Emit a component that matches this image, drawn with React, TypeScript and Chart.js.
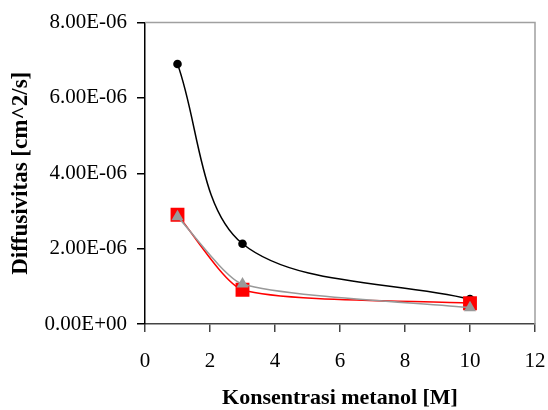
import React, { useEffect, useRef } from "react";
import { Chart, registerables } from "chart.js";

Chart.register(...registerables);

const xValues = [1, 3, 10];
const seriesBlack = [6.9e-6, 2.13e-6, 0.66e-6];
const seriesRed = [2.9e-6, 0.91e-6, 0.55e-6];
const seriesGray = [2.85e-6, 1.06e-6, 0.43e-6];
const xTitle = "Konsentrasi metanol [M]";
const yTitle = "Diffusivitas [cm^2/s]";

const FONT = "'Liberation Serif', 'Times New Roman', serif";

const frame = {
  id: "frame",
  beforeDatasetsDraw(chart: any) {
    const { ctx, chartArea } = chart;
    ctx.save();
    ctx.strokeStyle = "#a0a0a0";
    ctx.lineWidth = 1.5;
    ctx.beginPath();
    ctx.moveTo(chartArea.left, chartArea.top);
    ctx.lineTo(chartArea.right, chartArea.top);
    ctx.lineTo(chartArea.right, chartArea.bottom);
    ctx.stroke();
    ctx.restore();
  },
};

export default function App() {
  const ref = useRef<HTMLCanvasElement>(null);
  useEffect(() => {
    const pts = (ys: number[]) => xValues.map((x, i) => ({ x, y: ys[i] }));
    const chart = new Chart(ref.current!, {
      type: "scatter",
      data: {
        datasets: [
          {
            data: pts(seriesBlack),
            order: 3,
            showLine: true,
            borderColor: "#000000",
            backgroundColor: "#000000",
            borderWidth: 1.5,
            pointStyle: "circle",
            pointRadius: 4.3,
            pointBorderWidth: 0,
            tension: 0.33,
          },
          {
            data: pts(seriesRed),
            order: 2,
            showLine: true,
            borderColor: "#ff0000",
            backgroundColor: "#ff0000",
            borderWidth: 1.5,
            pointStyle: "rect",
            pointRadius: 9.8,
            pointBorderWidth: 0,
            tension: 0.2,
          },
          {
            data: pts(seriesGray),
            order: 1,
            showLine: true,
            borderColor: "#999999",
            backgroundColor: "#999999",
            borderWidth: 1.5,
            pointStyle: "triangle",
            pointRadius: 7,
            pointBorderWidth: 0,
            tension: 0.2,
          },
        ],
      },
      options: {
        animation: false,
        responsive: false,
        devicePixelRatio: 1,
        layout: { padding: { top: 21, right: 13, left: 0, bottom: 0 } },
        plugins: { legend: { display: false }, tooltip: { enabled: false } },
        scales: {
          x: {
            type: "linear",
            min: 0,
            max: 12,
            afterFit: (s: any) => {
              s.height = 86;
              s.paddingLeft = 0;
              s.paddingRight = 0;
            },
            ticks: {
              stepSize: 2,
              color: "#000",
              font: { family: FONT, size: 21 },
              padding: 17,
              maxRotation: 0,
            },
            grid: {
              drawOnChartArea: false,
              drawTicks: true,
              tickLength: 8,
              color: "#444",
              lineWidth: 1.5,
            },
            border: { color: "#444", width: 1.5 },
            title: {
              display: true,
              text: xTitle,
              color: "#000",
              font: { family: FONT, size: 22, weight: "bold", lineHeight: 1 },
              padding: { top: 0, bottom: 1 },
            },
          },
          y: {
            min: 0,
            max: 8e-6,
            afterFit: (s: any) => {
              s.width = 145;
            },
            ticks: {
              stepSize: 2e-6,
              color: "#000",
              font: { family: FONT, size: 21 },
              padding: 10,
              callback: (v: any) => {
                const n = Number(v);
                if (n === 0) return "0.00E+00";
                const e = Math.floor(Math.log10(Math.abs(n)) + 1e-9);
                const m = n / Math.pow(10, e);
                const es = Math.abs(e).toString().padStart(2, "0");
                return m.toFixed(2) + "E" + (e < 0 ? "-" : "+") + es;
              },
            },
            grid: {
              drawOnChartArea: false,
              drawTicks: true,
              tickLength: 8,
              color: "#000",
              lineWidth: 1.5,
            },
            border: { color: "#000", width: 1.5 },
            title: {
              display: true,
              text: yTitle,
              color: "#000",
              font: { family: FONT, size: 23, weight: "bold", lineHeight: 1 },
              padding: { top: 10, bottom: 0 },
            },
          },
        },
      },
      plugins: [frame],
    });
    return () => chart.destroy();
  }, []);
  return (
    <div style={{ position: "absolute", left: 0, top: 0, width: 548, height: 410, background: "#fff" }}>
      <canvas ref={ref} width={548} height={410} />
    </div>
  );
}
